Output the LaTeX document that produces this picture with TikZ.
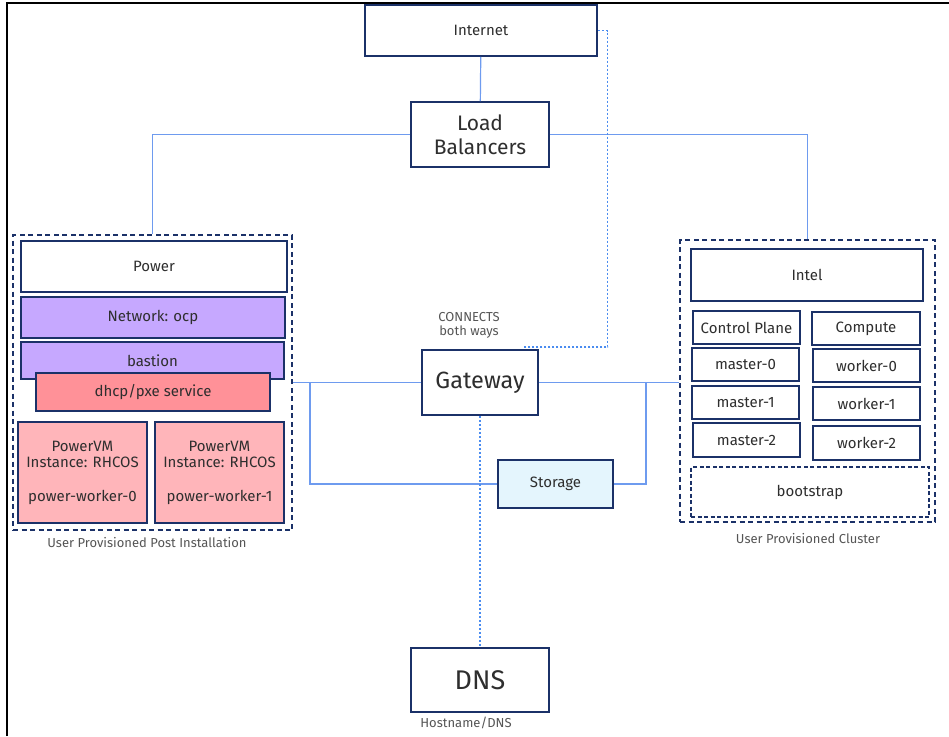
\documentclass[tikz,border=0pt]{standalone}
\usepackage{fontspec}
\setmainfont{Fira Sans}
\usepackage[HTML]{xcolor}
\usepackage{tikz}
\usetikzlibrary{positioning}

\definecolor{navy}{HTML}{1B3168}
\definecolor{linkblue}{HTML}{6E9BEF}
\definecolor{dotblue}{HTML}{4A8CF0}
\definecolor{lavender}{HTML}{C6A8FF}
\definecolor{salmon}{HTML}{FF9198}
\definecolor{rosy}{HTML}{FFB5BA}
\definecolor{icy}{HTML}{E4F5FD}
\definecolor{txt}{HTML}{2E2E2E}
\definecolor{greytxt}{HTML}{555555}

\tikzset{
  box/.style={draw=navy, line width=1.6pt, fill=white, inner sep=0pt, align=center, text=txt, font=\fontsize{15}{17}\selectfont},
  group/.style={draw=navy, line width=1.8pt, dash pattern=on 5pt off 3.5pt, inner sep=0pt},
  link/.style={draw=linkblue, line width=1.2pt},
  dotlink/.style={draw=dotblue, line width=1.2pt, dash pattern=on 2.5pt off 1.5pt},
  caption/.style={text=greytxt, font=\fontsize{13}{15}\selectfont, align=center}
}

\begin{document}
\begin{tikzpicture}[x=1pt,y=-1pt]
\useasboundingbox (0,0) rectangle (949,736);
\draw[black, line width=1.3pt] (7,736) -- (7,3) -- (949,3);

% top and middle
\node[box, minimum width=232pt, minimum height=51pt] (inet) at (481,30.5) {Internet};
\node[box, minimum width=138pt, minimum height=65pt, font=\fontsize{21}{24}\selectfont] (lb) at (480,134.5) {Load\\Balancers};
\node[box, minimum width=116pt, minimum height=65pt, font=\fontsize{23.5}{28}\selectfont] (gw) at (480,382.5) {Gateway};
\node[box, fill=icy, minimum width=115pt, minimum height=48pt] (storage) at (555.5,484) {Storage};
\node[box, minimum width=138pt, minimum height=64pt, font=\fontsize{27}{30}\selectfont] (dns) at (480,680) {DNS};
\node[caption] (connects) at (469,325) {CONNECTS\\[-1pt]both ways};
\node[caption] (dnslabel) at (466,723) {Hostname/DNS};

% power side
\node[group, minimum width=279pt, minimum height=295pt] (postinst) at (152.5,382.5) {};
\node[box, minimum width=266pt, minimum height=51pt] (power) at (154,266.5) {Power};
\node[box, fill=lavender, minimum width=264pt, minimum height=41pt] (network) at (153,317.5) {Network: ocp};
\node[box, fill=lavender, minimum width=263pt, minimum height=37pt] (bastion) at (152.5,360.5) {bastion};
\node[box, fill=salmon, minimum width=234pt, minimum height=38pt] (dhcp) at (153,392) {dhcp/pxe service};
\node[box, fill=rosy, minimum width=129pt, minimum height=101pt] (pw0) at (82.5,472.5) {PowerVM\\[-1pt]Instance: RHCOS\\[17pt]power-worker-0};
\node[box, fill=rosy, minimum width=129pt, minimum height=101pt] (pw1) at (219.5,472.5) {PowerVM\\[-1pt]Instance: RHCOS\\[17pt]power-worker-1};
\node[caption] (postlabel) at (147,542) {User Provisioned Post Installation};

% intel side
\node[group, minimum width=255pt, minimum height=282pt] (cluster) at (807.5,381) {};
\node[box, minimum width=232pt, minimum height=52pt] (intel) at (807,275) {Intel};
\node[box, minimum width=107pt, minimum height=33pt] (cplane) at (746.5,327.5) {Control Plane};
\node[box, minimum width=108pt, minimum height=33pt] (compute) at (866,328.5) {Compute};
\node[box, minimum width=107pt, minimum height=33pt] (m0) at (745.5,364.5) {master-0};
\node[box, minimum width=107pt, minimum height=33pt] (m1) at (745.5,402.5) {master-1};
\node[box, minimum width=107pt, minimum height=34pt] (m2) at (746.5,440) {master-2};
\node[box, minimum width=107pt, minimum height=33pt] (w0) at (866.5,365.5) {worker-0};
\node[box, minimum width=107pt, minimum height=33pt] (w1) at (866.5,403.5) {worker-1};
\node[box, minimum width=107pt, minimum height=34pt] (w2) at (866.5,443) {worker-2};
\node[box, dash pattern=on 4pt off 2.5pt, minimum width=238pt, minimum height=50pt] (boot) at (810,492) {bootstrap};
\node[caption] (clusterlabel) at (808,538) {User Provisioned Cluster};

% connectors
\coordinate (tapL) at (310,382.5);
\coordinate (tapR) at (646,382.5);
\coordinate (gwin) at (523,347);
\draw[link] (inet) -- (lb);
\draw[link] (lb.west) -| (postinst.north);
\draw[link] (lb.east) -| (cluster.north);
\draw[link] (gw.west) -- (postinst.east |- gw.west);
\draw[link] (gw.east) -- (cluster.west |- gw.east);
\draw[link] (storage.west) -| (tapL);
\draw[link] (storage.east) -| (tapR);
\draw[dotlink] (gw) -- (dns);
\draw[dotlink] (inet.east) -- ++(10,0) |- (gwin);
\end{tikzpicture}
\end{document}
